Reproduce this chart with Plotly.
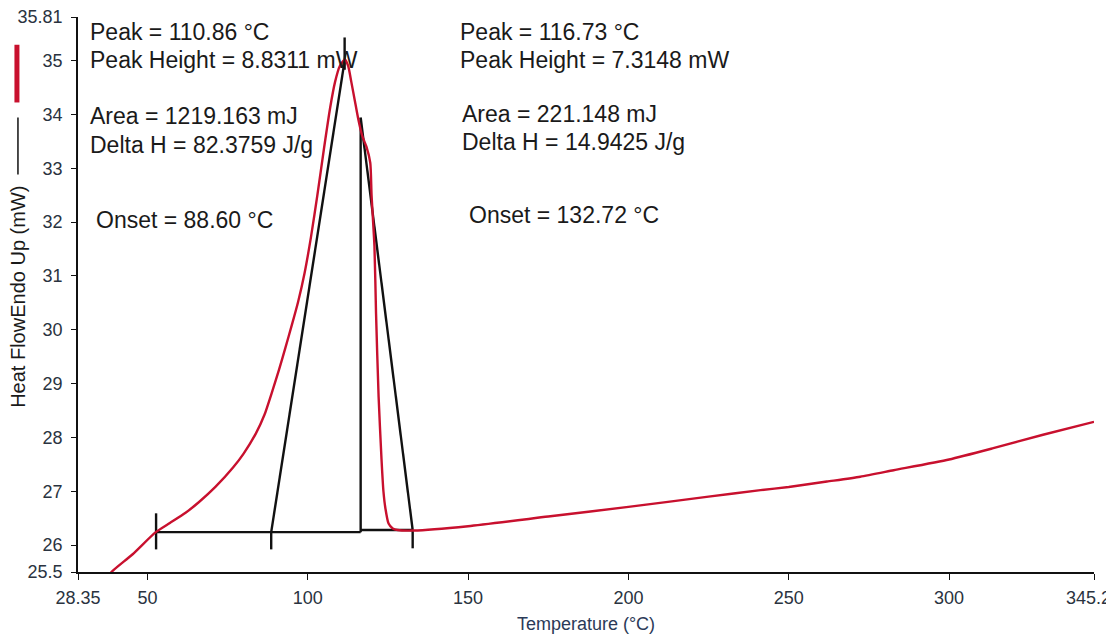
import plotly.graph_objects as go

# ---- data ----
temp_c = [37.5, 38.8, 45.4, 52.6, 57.0, 61.9, 66.1, 71.2, 76.7, 80.0, 83.8, 86.5, 89.0, 91.0,
          93.0, 95.0, 97.0, 99.0, 101.0, 103.0, 105.0, 107.0, 108.5, 110.0, 111.6, 112.6,
          113.6, 114.7, 115.8, 117.0, 118.3, 119.5, 119.9, 120.8, 121.3, 122.1, 123.0, 123.6,
          124.2, 125.2, 126.5, 128.0, 133.0, 150.0, 175.0, 200.0, 225.0, 241.2, 250.0, 261.9,
          272.3, 282.7, 300.0, 313.8, 329.3, 345.2]
heat_flow = [25.38, 25.50, 25.83, 26.24, 26.41, 26.60, 26.80, 27.08, 27.44, 27.70, 28.07, 28.42,
             28.87, 29.25, 29.66, 30.08, 30.52, 31.05, 31.72, 32.50, 33.34, 34.13, 34.60, 34.90,
             35.02, 34.90, 34.60, 34.25, 33.90, 33.60, 33.40, 33.10, 32.50, 31.55, 30.30, 28.75,
             27.60, 27.00, 26.69, 26.40, 26.31, 26.28, 26.27, 26.35, 26.53, 26.71, 26.90, 27.02,
             27.08, 27.18, 27.27, 27.39, 27.59, 27.80, 28.05, 28.29]

# peak-analysis construction lines (temperature, heat flow)
baseline1_t = [52.7, 116.5]
baseline1_v = [26.24, 26.24]
baseline2_t = [116.5, 132.72]
baseline2_v = [26.28, 26.28]
lead_left_t = [88.6, 111.5]
lead_left_v = [26.24, 35.0]
peak2_vert_t = [116.5, 116.5]
peak2_vert_v = [26.24, 33.94]
lead_right_t = [116.5, 132.72]
lead_right_v = [33.94, 26.28]
limit_t = [52.7, 88.6, 132.72]
limit_top = [26.59, 26.24, 26.28]
limit_bot = [25.92, 25.92, 25.94]
peak1_mark_t = 111.5
peak1_mark_v = [35.43, 34.83]

x_tickvals = [28.35, 50, 100, 150, 200, 250, 300, 345.2]
x_ticktext = ["28.35", "50", "100", "150", "200", "250", "300", ""]
x_end_label = "345.2"
y_tickvals = [25.5, 26, 27, 28, 29, 30, 31, 32, 33, 34, 35, 35.81]
y_ticktext = ["25.5", "26", "27", "28", "29", "30", "31", "32", "33", "34", "35", "35.81"]

x_range = [28.35, 345.2]
y_range = [25.5, 35.81]

labels_left = ["Peak = 110.86 °C", "Peak Height = 8.8311 mW", "Area = 1219.163 mJ",
               "Delta H = 82.3759 J/g", "Onset = 88.60 °C"]
labels_right = ["Peak = 116.73 °C", "Peak Height = 7.3148 mW", "Area = 221.148 mJ",
                "Delta H = 14.9425 J/g", "Onset = 132.72 °C"]

# ---- build black construction trace ----
bx, by = [], []
def seg(xs, ys):
    bx.extend(list(xs) + [None])
    by.extend(list(ys) + [None])

seg(baseline1_t, baseline1_v)
seg(baseline2_t, baseline2_v)
seg(lead_left_t, lead_left_v)
seg(peak2_vert_t, peak2_vert_v)
seg(lead_right_t, lead_right_v)
for t, a, b in zip(limit_t, limit_top, limit_bot):
    seg([t, t], [a, b])
seg([peak1_mark_t, peak1_mark_t], peak1_mark_v)

FONT = "Liberation Sans, Arial, sans-serif"
RED = "#c8102e"
TICKCOL = "#2a3340"

fig = go.Figure()
fig.add_trace(go.Scatter(x=bx, y=by, mode="lines", line=dict(color="#111111", width=2.4),
                         hoverinfo="skip", showlegend=False))
fig.add_trace(go.Scatter(x=temp_c, y=heat_flow, mode="lines",
                         line=dict(color=RED, width=2.4, shape="spline", smoothing=0.6),
                         showlegend=False))

# text annotations (positions in data units)
left_x = [31.4, 31.4, 31.4, 31.4, 33.3]
right_x = [146.9, 146.9, 147.5, 147.5, 149.7]
left_y = [35.54, 35.02, 33.98, 33.44, 32.04]
right_y = [35.54, 35.02, 34.00, 33.48, 32.14]
for txt, xx, yy in zip(labels_left, left_x, left_y):
    fig.add_annotation(x=xx, y=yy, text=txt, showarrow=False, xanchor="left", yanchor="middle",
                       font=dict(family=FONT, size=23, color="#1a1a1a"))
for txt, xx, yy in zip(labels_right, right_x, right_y):
    fig.add_annotation(x=xx, y=yy, text=txt, showarrow=False, xanchor="left", yanchor="middle",
                       font=dict(family=FONT, size=23, color="#1a1a1a"))

# last x tick label, kept fully inside the figure at the right edge
fig.add_annotation(xref="x", yref="paper", x=x_range[1], y=0, text=x_end_label, showarrow=False,
                   xanchor="right", yanchor="middle", xshift=19, yshift=-26,
                   font=dict(family=FONT, size=18, color=TICKCOL))

# y-axis title and the small series key beside it
fig.add_annotation(xref="paper", yref="paper", x=-0.0585, y=0.495, text="Heat FlowEndo Up (mW)",
                   textangle=-90, showarrow=False, xanchor="center", yanchor="middle",
                   font=dict(family=FONT, size=20, color="#1a1a1a"))
fig.add_shape(type="line", xref="paper", yref="paper", x0=-0.0601, x1=-0.0601, y0=0.846, y1=0.950,
              line=dict(color=RED, width=5))
fig.add_shape(type="line", xref="paper", yref="paper", x0=-0.0591, x1=-0.0591, y0=0.716, y1=0.819,
              line=dict(color="#111111", width=1.5))

# page body has an 8px margin, so the figure is sized/margined to compensate
fig.update_layout(
    template="none",
    width=1106, height=630,
    margin=dict(l=70, r=20, t=9, b=66, autoexpand=False),
    paper_bgcolor="white", plot_bgcolor="white",
    showlegend=False,
    font=dict(family=FONT, color=TICKCOL),
)
fig.update_xaxes(range=x_range, tickmode="array", tickvals=x_tickvals, ticktext=x_ticktext,
                 showgrid=False, zeroline=False, showline=True, linecolor="#111111", linewidth=1.6,
                 ticks="outside", ticklen=6, tickwidth=1.4, tickcolor="#111111",
                 ticklabelstandoff=3, ticklabeloverflow="allow",
                 tickfont=dict(family=FONT, size=18, color=TICKCOL), automargin=False,
                 title=dict(text="Temperature (°C)", font=dict(family=FONT, size=18, color="#2b3a58"),
                            standoff=10))
fig.update_yaxes(range=y_range, tickmode="array", tickvals=y_tickvals, ticktext=y_ticktext,
                 showgrid=False, zeroline=False, showline=True, linecolor="#111111", linewidth=1.6,
                 ticks="outside", ticklen=5, tickwidth=1.4, tickcolor="#111111",
                 ticklabelstandoff=5, ticklabeloverflow="allow",
                 tickfont=dict(family=FONT, size=18, color=TICKCOL), automargin=False)

fig.write_html("out.html")
